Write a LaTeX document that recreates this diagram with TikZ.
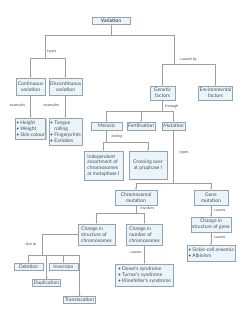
\documentclass[tikz,border=0pt]{standalone}
\usepackage{fontspec}
\setmainfont{Lato}
\usetikzlibrary{calc,arrows.meta,shadows}
\definecolor{boxfill}{HTML}{E9F4FB}
\definecolor{boxline}{HTML}{97A3AA}
\definecolor{txt}{HTML}{4A4F52}
\tikzset{
  box/.style={draw=boxline, fill=boxfill, line width=0.5pt, text=txt, inner sep=1pt, align=center,
    font=\fontsize{5}{5.9}\selectfont,
    drop shadow={shadow xshift=0.9pt, shadow yshift=-0.9pt, fill=gray!55, opacity=0.8}},
  lab/.style={text=txt, inner sep=0.5pt, font=\fontsize{3.8}{4.2}\selectfont},
  conn/.style={draw=gray!75, line width=0.5pt},
  arr/.style={conn, -{Stealth[length=2.2pt, width=2pt]}},
}

\begin{document}
\begin{tikzpicture}[x=1pt, y=-1pt]
    \useasboundingbox[fill=white](0,0)rectangle(248,320);

    % boxes
    \node[box, minimum width=38pt, minimum height=7pt](var)at(111,20.5){\textbf{Variation}};
    \node[box, minimum width=29pt, minimum height=17pt](cont)at(30.5,86.5){Continuous\\variation};
    \node[box, minimum width=33pt, minimum height=17pt](disc)at(65.5,86.5){Discontinuous\\variation};
    \node[box, minimum width=25pt, minimum height=14pt](gen)at(162.5,93){Genetic\\factors};
    \node[box, minimum width=33pt, minimum height=14pt](env)at(215.5,93){Environmental\\factors};
    \node[box, minimum width=28pt, minimum height=21pt, align=left](hgt)at(30.5,128.5)
        {\textbullet\ Height\\\textbullet\ Weight\\\textbullet\ Skin colour};
    \node[box, minimum width=33pt, minimum height=27pt, align=left](tng)at(65.5,131.5)
        {\textbullet\ Tongue\\\phantom{\textbullet\ }rolling\\\textbullet\ Fingerprints\\\textbullet\ Earlobes};
    \node[box, minimum width=31pt, minimum height=8pt](mei)at(106.5,126){Meiosis};
    \node[box, minimum width=28pt, minimum height=8pt](fer)at(141,126){Fertilisation};
    \node[box, minimum width=23pt, minimum height=8pt](mut)at(173.5,126){Mutation};
    \node[box, minimum width=39pt, minimum height=29pt, align=left](ind)at(103.5,165.5)
        {Independent\\assortment of\\chromosomes\\at metaphase I};
    \node[box, minimum width=38pt, minimum height=28pt](cro)at(148,165){Crossing over\\at prophase I};
    \node[box, minimum width=42pt, minimum height=15pt](chr)at(136,197.5){Chromosomal\\mutation};
    \node[box, minimum width=34pt, minimum height=15pt](gmu)at(211,197.5){Gene\\mutation};
    \node[box, minimum width=37pt, minimum height=21pt, align=left](str)at(96.5,234.5)
        {Change in\\structure of\\chromosomes};
    \node[box, minimum width=36pt, minimum height=21pt, align=left](num)at(144.5,234.5)
        {Change in\\number of\\chromosomes};
    \node[box, minimum width=38pt, minimum height=15pt](gstr)at(211,224.5){Change in\\structure of gene};
    \node[box, minimum width=48pt, minimum height=16pt, align=left](sic)at(211,253)
        {\textbullet\ Sickle-cell anaemia\\\textbullet\ Albinism};
    \node[box, minimum width=58pt, minimum height=22pt, align=left](dow)at(144.5,275)
        {\textbullet\ Down's syndrome\\\textbullet\ Turner's syndrome\\\textbullet\ Klinefelter's syndrome};
    \node[box, minimum width=29pt, minimum height=7pt](del)at(28.5,266.5){Deletion};
    \node[box, minimum width=29pt, minimum height=7pt](inv)at(63.5,266.5){Inversion};
    \node[box, minimum width=28pt, minimum height=7pt](dup)at(46.5,283){Duplication};
    \node[box, minimum width=32pt, minimum height=7pt](tra)at(79.5,300){Translocation};

    % junctions
    \coordinate(vl)at(45,35);
    \coordinate(vj)at(111,35);
    \coordinate(vr)at(174,35);
    \coordinate(tj)at(45,58);
    \coordinate(cj)at(174,64);
    \coordinate(gj)at(162.5,111);
    \coordinate(mj)at(106.5,142);
    \coordinate(uj)at(173.5,183);
    \coordinate(hj)at(136,213);
    \coordinate(sj)at(42,234.5);
    \coordinate(dj)at(42,255);

    % connectors
    \path[conn](var)to(vj);
    \path[conn](vl)to(vr);
    \path[conn](vl)to(tj);
    \path[arr](tj)-|(cont);
    \path[arr](tj)-|(disc);
    \path[conn](vr)to(cj);
    \path[arr](cj)-|(gen);
    \path[arr](cj)-|(env);
    \path[arr](cont)to(hgt);
    \path[arr](disc)to(tng);
    \path[conn](gen)to(gj);
    \path[arr](gj)-|(mei);
    \path[arr](gj)-|(fer);
    \path[arr](gj)-|(mut);
    \path[conn](mei)to(mj);
    \path[arr](mj)-|(ind);
    \path[arr](mj)-|(cro);
    \path[conn](mut)to(uj);
    \path[arr](uj)-|(chr);
    \path[arr](uj)-|(gmu);
    \path[conn](chr)to(hj);
    \path[arr](hj)-|(str);
    \path[arr](hj)-|(num);
    \path[arr](gmu)to(gstr);
    \path[arr](gstr)to(sic);
    \path[arr](num)to(dow);
    \path[conn](str.west)to(sj)to(dj);
    \path[arr](dj)-|(del);
    \path[arr](dj)-|(inv);
    \path[arr](dj)-|(dup);
    \path[arr](dj)-|(tra);

    % labels
    \node[lab, anchor=west](ltypes)at(46.5,52){types};
    \node[lab, anchor=west](lcaused)at(179.5,59){caused by};
    \node[lab, anchor=east](lexa)at(26,105){examples};
    \node[lab, anchor=east](lexb)at(60,105){examples};
    \node[lab, anchor=west](lthrough)at(164.5,106){through};
    \node[lab, anchor=west](lduring)at(111,136){during};
    \node[lab, anchor=west](lmtypes)at(179,153){types};
    \node[lab, anchor=west](linvolves)at(140,208){involves};
    \node[lab, anchor=west](lcausa)at(213.5,211){causes};
    \node[lab, anchor=west](lcausb)at(213.5,238){causes};
    \node[lab, anchor=east](lcausc)at(142,253){causes};
    \node[lab, anchor=east](ldue)at(37,244.5){due to};
\end{tikzpicture}
\end{document}
